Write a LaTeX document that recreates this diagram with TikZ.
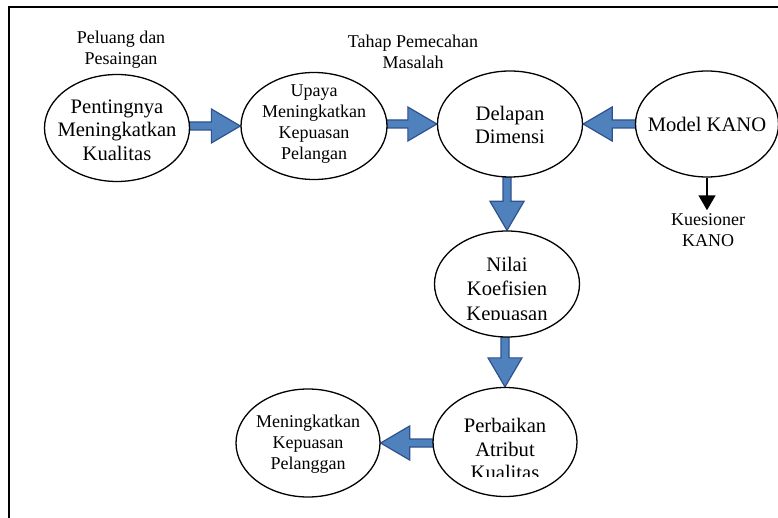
\documentclass[tikz,border=0pt]{standalone}
\usepackage{fontspec}
\setmainfont{Liberation Serif}
\usetikzlibrary{shapes.geometric,calc,backgrounds,arrows.meta}
\definecolor{afill}{HTML}{4F81BD}
\definecolor{aline}{HTML}{2F528F}
\tikzset{
  ell/.style={draw, ellipse, line width=1.3pt, fill=white, inner sep=0pt},
  big/.style={font=\fontsize{20.6}{23.5}\selectfont, align=center, inner sep=0pt},
  bigwide/.style={font=\fontsize{20.6}{24.5}\selectfont, align=center, inner sep=0pt},
  small/.style={font=\fontsize{18}{21}\selectfont, align=center, inner sep=0pt},
  barrowst/.style={fill=afill, draw=aline, line width=1.2pt, line join=miter},
  frame/.style={line width=2.2pt},
}
% #1 start point (on the source ellipse), #2 tip point (on the target ellipse)
\newcommand\blockarrow[2]{%
  \coordinate (bA) at (#1);
  \coordinate (bT) at (#2);
  \coordinate (bS) at ($(bA)!-4pt!(bT)$);
  \coordinate (bH) at ($(bT)!29pt!(bA)$);
  \draw[barrowst] ($(bS)!4pt!90:(bT)$) -- ($(bH)!4pt!90:(bT)$) -- ($(bH)!17pt!90:(bT)$) -- (bT)
    -- ($(bH)!17pt!-90:(bT)$) -- ($(bH)!4pt!-90:(bT)$) -- ($(bS)!4pt!-90:(bT)$) -- cycle;
}
\begin{document}
\begin{tikzpicture}[x=1pt,y=-1pt]
\useasboundingbox (0,0) rectangle (778,518);
\draw[frame] (9,520) -- (9,7) -- (780,7);

% ellipses
\node[ell, minimum width=145pt, minimum height=107pt] (e1) at (117,128) {};
\node[ell, minimum width=146pt, minimum height=107pt] (e2) at (314,126) {};
\node[ell, minimum width=145pt, minimum height=106pt] (e3) at (510,124) {};
\node[ell, minimum width=143pt, minimum height=106pt] (e4) at (707,124) {};
\node[ell, minimum width=145pt, minimum height=106pt] (e5) at (507,284) {};
\node[ell, minimum width=144pt, minimum height=109pt] (e6) at (505,442) {};
\node[ell, minimum width=144pt, minimum height=108pt] (e7) at (308,443) {};

% texts
\node[big] (t1) at (117,130) {Pentingnya\\Meningkatkan\\Kualitas};
\node[small] (t2) at (314,124) {Upaya\\Meningkatkan\\Kepuasan\\Pelangan};
\node[big] (t3) at (510,125) {Delapan\\Dimensi};
\node[big] (t4) at (707,124) {Model KANO};
\begin{scope}
  \clip (420,225) rectangle (595,319);
  \node[bigwide] (t5) at (507,291) {Nilai\\Koefisien\\Kepuasan};
\end{scope}
\begin{scope}
  \clip (420,380) rectangle (595,476);
  \node[big] (t6) at (505,449) {Perbaikan\\Atribut\\Kualitas};
\end{scope}
\node[small] (t7) at (308,444) {Meningkatkan\\Kepuasan\\Pelanggan};

% outside labels
\node[small] (l1) at (121,50) {Peluang dan\\Pesaingan};
\node[small] (l2) at (413,52) {Tahap Pemecahan\\Masalah};
\node[small, inner sep=3pt] (kq) at (708,230) {Kuesioner\\KANO};

% thin arrow
\draw[line width=1.5pt, -{Triangle[length=15pt,width=17pt]}] (e4.south) -- (e4.south |- kq.north);

% block arrows
\begin{scope}[on background layer]
  \blockarrow{e1.east |- e2.west}{e2.west}
  \blockarrow{e2.east |- e3.west}{e3.west}
  \blockarrow{e4.west |- e3.east}{e3.east}
  \blockarrow{e3.south -| e5.north}{e5.north}
  \blockarrow{e5.south -| e6.north}{e6.north}
  \blockarrow{e6.west |- e7.east}{e7.east}
\end{scope}
\end{tikzpicture}
\end{document}
